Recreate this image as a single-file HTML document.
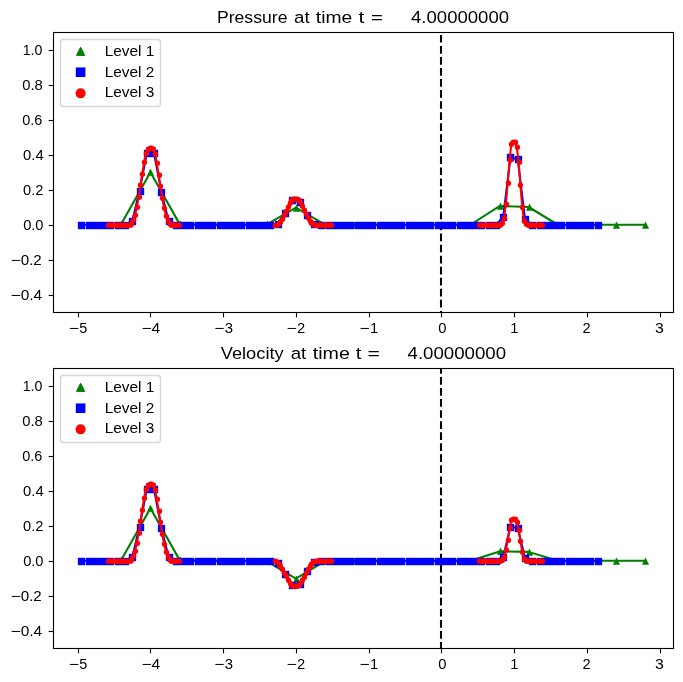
<!DOCTYPE html>
<html><head><meta charset="utf-8"><title>plot</title>
<style>html,body{margin:0;padding:0;background:#fff;}body{width:683px;height:682px;overflow:hidden;font-family:"Liberation Sans", sans-serif;}svg{display:block;will-change:transform;}</style>
</head><body>
<svg width="683" height="682" viewBox="0 0 683 682" font-family='"Liberation Sans", sans-serif' fill="#000">
<rect width="683" height="682" fill="#fff"/>
<clipPath id="cp"><rect x="53.18" y="32.25" width="620.0" height="280.0"/></clipPath>
<g clip-path="url(#cp)">
<line x1="441" x2="441" y1="23.86" y2="314.25" stroke="#000" stroke-width="2.08" stroke-dasharray="7.71 3.33"/>
<polyline points="92.27,224.75 121.36,223.81 150.45,172.22 179.54,223.88 208.63,224.75 237.73,224.75 266.82,224.46 295.91,207.69 325,224.59 354.09,224.75 383.18,224.75 412.27,224.75 441.36,224.75 470.45,224.75 499.54,206.03 528.63,207.01 557.73,224.75 586.82,224.75 615.91,224.75 645,224.75" fill="none" stroke="#008000" stroke-width="2.08" stroke-linejoin="round"/>
<path d="M92.5 223.05L90.05 227.95L94.95 227.95Z" fill="#008000" stroke="#008000" stroke-width="1.39" stroke-linejoin="miter"/>
<path d="M121.5 222.05L119.05 226.95L123.95 226.95Z" fill="#008000" stroke="#008000" stroke-width="1.39" stroke-linejoin="miter"/>
<path d="M150.5 170.05L148.05 174.95L152.95 174.95Z" fill="#008000" stroke="#008000" stroke-width="1.39" stroke-linejoin="miter"/>
<path d="M180.5 222.05L178.05 226.95L182.95 226.95Z" fill="#008000" stroke="#008000" stroke-width="1.39" stroke-linejoin="miter"/>
<path d="M209.5 223.05L207.05 227.95L211.95 227.95Z" fill="#008000" stroke="#008000" stroke-width="1.39" stroke-linejoin="miter"/>
<path d="M238.5 223.05L236.05 227.95L240.95 227.95Z" fill="#008000" stroke="#008000" stroke-width="1.39" stroke-linejoin="miter"/>
<path d="M267.5 222.05L265.05 226.95L269.95 226.95Z" fill="#008000" stroke="#008000" stroke-width="1.39" stroke-linejoin="miter"/>
<path d="M296.5 206.05L294.05 210.95L298.95 210.95Z" fill="#008000" stroke="#008000" stroke-width="1.39" stroke-linejoin="miter"/>
<path d="M325.5 223.05L323.05 227.95L327.95 227.95Z" fill="#008000" stroke="#008000" stroke-width="1.39" stroke-linejoin="miter"/>
<path d="M354.5 223.05L352.05 227.95L356.95 227.95Z" fill="#008000" stroke="#008000" stroke-width="1.39" stroke-linejoin="miter"/>
<path d="M383.5 223.05L381.05 227.95L385.95 227.95Z" fill="#008000" stroke="#008000" stroke-width="1.39" stroke-linejoin="miter"/>
<path d="M412.5 223.05L410.05 227.95L414.95 227.95Z" fill="#008000" stroke="#008000" stroke-width="1.39" stroke-linejoin="miter"/>
<path d="M441.5 223.05L439.05 227.95L443.95 227.95Z" fill="#008000" stroke="#008000" stroke-width="1.39" stroke-linejoin="miter"/>
<path d="M470.5 223.05L468.05 227.95L472.95 227.95Z" fill="#008000" stroke="#008000" stroke-width="1.39" stroke-linejoin="miter"/>
<path d="M500.5 204.05L498.05 208.95L502.95 208.95Z" fill="#008000" stroke="#008000" stroke-width="1.39" stroke-linejoin="miter"/>
<path d="M529.5 205.05L527.05 209.95L531.95 209.95Z" fill="#008000" stroke="#008000" stroke-width="1.39" stroke-linejoin="miter"/>
<path d="M558.5 223.05L556.05 227.95L560.95 227.95Z" fill="#008000" stroke="#008000" stroke-width="1.39" stroke-linejoin="miter"/>
<path d="M587.5 223.05L585.05 227.95L589.95 227.95Z" fill="#008000" stroke="#008000" stroke-width="1.39" stroke-linejoin="miter"/>
<path d="M616.5 223.05L614.05 227.95L618.95 227.95Z" fill="#008000" stroke="#008000" stroke-width="1.39" stroke-linejoin="miter"/>
<path d="M645.5 223.05L643.05 227.95L647.95 227.95Z" fill="#008000" stroke="#008000" stroke-width="1.39" stroke-linejoin="miter"/>
<polyline points="81.36,224.75 88.63,224.75 95.91,224.75 103.18,224.75 110.45,224.75 117.73,224.75 125,224.75 132.27,220.99 139.54,190.79 146.82,153.03 154.09,153.44 161.36,191.65 168.63,221.26 175.91,224.75 183.18,224.75 190.45,224.75 197.73,224.75 205,224.75 212.27,224.75 219.54,224.75 226.82,224.75 234.09,224.75 241.36,224.75 248.63,224.75 255.91,224.75 263.18,224.75 270.45,224.75 277.73,223.58 285,213.17 292.27,200.45 299.54,201.68 306.82,215.48 314.09,224.11 321.36,224.75 328.63,224.75 335.91,224.75 343.18,224.75 350.45,224.75 357.73,224.75 365,224.75 372.27,224.75 379.54,224.75 386.82,224.75 394.09,224.75 401.36,224.75 408.63,224.75 415.91,224.75 423.18,224.75 430.45,224.75 437.73,224.75 445,224.75 452.27,224.75 459.54,224.75 466.82,224.75 474.09,224.75 481.36,224.75 488.63,224.75 495.91,224.75 503.18,217.27 510.45,157.33 517.73,159.21 525,219.33 532.27,224.75 539.54,224.75 546.82,224.75 554.09,224.75 561.36,224.75 568.63,224.75 575.91,224.75 583.18,224.75 590.45,224.75 597.73,224.75" fill="none" stroke="#0000ff" stroke-width="2.08" stroke-linejoin="round"/>
<rect x="77.85" y="221.8" width="7.3" height="7.4" fill="#0000ff"/>
<rect x="85.85" y="221.8" width="7.3" height="7.4" fill="#0000ff"/>
<rect x="92.85" y="221.8" width="7.3" height="7.4" fill="#0000ff"/>
<rect x="99.85" y="221.8" width="7.3" height="7.4" fill="#0000ff"/>
<rect x="106.85" y="221.8" width="7.3" height="7.4" fill="#0000ff"/>
<rect x="114.85" y="221.8" width="7.3" height="7.4" fill="#0000ff"/>
<rect x="121.85" y="221.8" width="7.3" height="7.4" fill="#0000ff"/>
<rect x="128.85" y="217.8" width="7.3" height="7.4" fill="#0000ff"/>
<rect x="136.85" y="187.8" width="7.3" height="7.4" fill="#0000ff"/>
<rect x="143.85" y="149.8" width="7.3" height="7.4" fill="#0000ff"/>
<rect x="150.85" y="149.8" width="7.3" height="7.4" fill="#0000ff"/>
<rect x="157.85" y="188.8" width="7.3" height="7.4" fill="#0000ff"/>
<rect x="165.85" y="217.8" width="7.3" height="7.4" fill="#0000ff"/>
<rect x="172.85" y="221.8" width="7.3" height="7.4" fill="#0000ff"/>
<rect x="179.85" y="221.8" width="7.3" height="7.4" fill="#0000ff"/>
<rect x="186.85" y="221.8" width="7.3" height="7.4" fill="#0000ff"/>
<rect x="194.85" y="221.8" width="7.3" height="7.4" fill="#0000ff"/>
<rect x="201.85" y="221.8" width="7.3" height="7.4" fill="#0000ff"/>
<rect x="208.85" y="221.8" width="7.3" height="7.4" fill="#0000ff"/>
<rect x="216.85" y="221.8" width="7.3" height="7.4" fill="#0000ff"/>
<rect x="223.85" y="221.8" width="7.3" height="7.4" fill="#0000ff"/>
<rect x="230.85" y="221.8" width="7.3" height="7.4" fill="#0000ff"/>
<rect x="237.85" y="221.8" width="7.3" height="7.4" fill="#0000ff"/>
<rect x="245.85" y="221.8" width="7.3" height="7.4" fill="#0000ff"/>
<rect x="252.85" y="221.8" width="7.3" height="7.4" fill="#0000ff"/>
<rect x="259.85" y="221.8" width="7.3" height="7.4" fill="#0000ff"/>
<rect x="266.85" y="221.8" width="7.3" height="7.4" fill="#0000ff"/>
<rect x="274.85" y="220.8" width="7.3" height="7.4" fill="#0000ff"/>
<rect x="281.85" y="209.8" width="7.3" height="7.4" fill="#0000ff"/>
<rect x="288.85" y="196.8" width="7.3" height="7.4" fill="#0000ff"/>
<rect x="296.85" y="198.8" width="7.3" height="7.4" fill="#0000ff"/>
<rect x="303.85" y="211.8" width="7.3" height="7.4" fill="#0000ff"/>
<rect x="310.85" y="220.8" width="7.3" height="7.4" fill="#0000ff"/>
<rect x="317.85" y="221.8" width="7.3" height="7.4" fill="#0000ff"/>
<rect x="325.85" y="221.8" width="7.3" height="7.4" fill="#0000ff"/>
<rect x="332.85" y="221.8" width="7.3" height="7.4" fill="#0000ff"/>
<rect x="339.85" y="221.8" width="7.3" height="7.4" fill="#0000ff"/>
<rect x="346.85" y="221.8" width="7.3" height="7.4" fill="#0000ff"/>
<rect x="354.85" y="221.8" width="7.3" height="7.4" fill="#0000ff"/>
<rect x="361.85" y="221.8" width="7.3" height="7.4" fill="#0000ff"/>
<rect x="368.85" y="221.8" width="7.3" height="7.4" fill="#0000ff"/>
<rect x="376.85" y="221.8" width="7.3" height="7.4" fill="#0000ff"/>
<rect x="383.85" y="221.8" width="7.3" height="7.4" fill="#0000ff"/>
<rect x="390.85" y="221.8" width="7.3" height="7.4" fill="#0000ff"/>
<rect x="397.85" y="221.8" width="7.3" height="7.4" fill="#0000ff"/>
<rect x="405.85" y="221.8" width="7.3" height="7.4" fill="#0000ff"/>
<rect x="412.85" y="221.8" width="7.3" height="7.4" fill="#0000ff"/>
<rect x="419.85" y="221.8" width="7.3" height="7.4" fill="#0000ff"/>
<rect x="426.85" y="221.8" width="7.3" height="7.4" fill="#0000ff"/>
<rect x="434.85" y="221.8" width="7.3" height="7.4" fill="#0000ff"/>
<rect x="441.85" y="221.8" width="7.3" height="7.4" fill="#0000ff"/>
<rect x="448.85" y="221.8" width="7.3" height="7.4" fill="#0000ff"/>
<rect x="456.85" y="221.8" width="7.3" height="7.4" fill="#0000ff"/>
<rect x="463.85" y="221.8" width="7.3" height="7.4" fill="#0000ff"/>
<rect x="470.85" y="221.8" width="7.3" height="7.4" fill="#0000ff"/>
<rect x="477.85" y="221.8" width="7.3" height="7.4" fill="#0000ff"/>
<rect x="485.85" y="221.8" width="7.3" height="7.4" fill="#0000ff"/>
<rect x="492.85" y="221.8" width="7.3" height="7.4" fill="#0000ff"/>
<rect x="499.85" y="213.8" width="7.3" height="7.4" fill="#0000ff"/>
<rect x="506.85" y="153.8" width="7.3" height="7.4" fill="#0000ff"/>
<rect x="514.85" y="155.8" width="7.3" height="7.4" fill="#0000ff"/>
<rect x="521.85" y="215.8" width="7.3" height="7.4" fill="#0000ff"/>
<rect x="528.85" y="221.8" width="7.3" height="7.4" fill="#0000ff"/>
<rect x="536.85" y="221.8" width="7.3" height="7.4" fill="#0000ff"/>
<rect x="543.85" y="221.8" width="7.3" height="7.4" fill="#0000ff"/>
<rect x="550.85" y="221.8" width="7.3" height="7.4" fill="#0000ff"/>
<rect x="557.85" y="221.8" width="7.3" height="7.4" fill="#0000ff"/>
<rect x="565.85" y="221.8" width="7.3" height="7.4" fill="#0000ff"/>
<rect x="572.85" y="221.8" width="7.3" height="7.4" fill="#0000ff"/>
<rect x="579.85" y="221.8" width="7.3" height="7.4" fill="#0000ff"/>
<rect x="586.85" y="221.8" width="7.3" height="7.4" fill="#0000ff"/>
<rect x="594.85" y="221.8" width="7.3" height="7.4" fill="#0000ff"/>
<polyline points="107.73,224.75 109.54,224.75 111.36,224.75 113.18,224.75 115,224.75 116.82,224.75 118.63,224.75 120.45,224.75 122.27,224.75 124.09,224.75 125.91,224.75 127.73,224.75 129.54,224.72 131.36,223.91 133.18,220.34 135,215 136.82,207.37 138.63,197.13 140.45,184.93 142.27,173.71 144.09,162.25 145.91,153 147.73,148.77 149.54,148.09 151.36,148.13 153.18,148.98 155,153.55 156.82,163.09 158.63,174.62 160.45,185.87 162.27,198.03 164.09,208.08 165.91,215.51 167.73,220.69 169.54,224.08 171.36,224.75 173.18,224.75 175,224.75 176.82,224.75 178.63,224.75" fill="none" stroke="#ff0000" stroke-width="2.08" stroke-linejoin="round"/>
<circle cx="108.45" cy="225.25" r="2.65" fill="#ff0000"/>
<circle cx="110.45" cy="225.25" r="2.65" fill="#ff0000"/>
<circle cx="111.45" cy="225.25" r="2.65" fill="#ff0000"/>
<circle cx="113.45" cy="225.25" r="2.65" fill="#ff0000"/>
<circle cx="115.45" cy="225.25" r="2.65" fill="#ff0000"/>
<circle cx="117.45" cy="225.25" r="2.65" fill="#ff0000"/>
<circle cx="119.45" cy="225.25" r="2.65" fill="#ff0000"/>
<circle cx="120.45" cy="225.25" r="2.65" fill="#ff0000"/>
<circle cx="122.45" cy="225.25" r="2.65" fill="#ff0000"/>
<circle cx="124.45" cy="225.25" r="2.65" fill="#ff0000"/>
<circle cx="126.45" cy="225.25" r="2.65" fill="#ff0000"/>
<circle cx="128.45" cy="225.25" r="2.65" fill="#ff0000"/>
<circle cx="130.45" cy="225.25" r="2.65" fill="#ff0000"/>
<circle cx="131.45" cy="224.25" r="2.65" fill="#ff0000"/>
<circle cx="133.45" cy="220.25" r="2.65" fill="#ff0000"/>
<circle cx="135.45" cy="215.25" r="2.65" fill="#ff0000"/>
<circle cx="137.45" cy="207.25" r="2.65" fill="#ff0000"/>
<circle cx="139.45" cy="197.25" r="2.65" fill="#ff0000"/>
<circle cx="140.45" cy="185.25" r="2.65" fill="#ff0000"/>
<circle cx="142.45" cy="174.25" r="2.65" fill="#ff0000"/>
<circle cx="144.45" cy="162.25" r="2.65" fill="#ff0000"/>
<circle cx="146.45" cy="153.25" r="2.65" fill="#ff0000"/>
<circle cx="148.45" cy="149.25" r="2.65" fill="#ff0000"/>
<circle cx="150.45" cy="148.25" r="2.65" fill="#ff0000"/>
<circle cx="151.45" cy="148.25" r="2.65" fill="#ff0000"/>
<circle cx="153.45" cy="149.25" r="2.65" fill="#ff0000"/>
<circle cx="155.45" cy="154.25" r="2.65" fill="#ff0000"/>
<circle cx="157.45" cy="163.25" r="2.65" fill="#ff0000"/>
<circle cx="159.45" cy="175.25" r="2.65" fill="#ff0000"/>
<circle cx="160.45" cy="186.25" r="2.65" fill="#ff0000"/>
<circle cx="162.45" cy="198.25" r="2.65" fill="#ff0000"/>
<circle cx="164.45" cy="208.25" r="2.65" fill="#ff0000"/>
<circle cx="166.45" cy="216.25" r="2.65" fill="#ff0000"/>
<circle cx="168.45" cy="221.25" r="2.65" fill="#ff0000"/>
<circle cx="170.45" cy="224.25" r="2.65" fill="#ff0000"/>
<circle cx="171.45" cy="225.25" r="2.65" fill="#ff0000"/>
<circle cx="173.45" cy="225.25" r="2.65" fill="#ff0000"/>
<circle cx="175.45" cy="225.25" r="2.65" fill="#ff0000"/>
<circle cx="177.45" cy="225.25" r="2.65" fill="#ff0000"/>
<circle cx="179.45" cy="225.25" r="2.65" fill="#ff0000"/>
<polyline points="275,224.75 276.82,224.54 278.63,223.41 280.45,221.61 282.27,218.98 284.09,215.38 285.91,211.13 287.73,207.19 289.54,203.28 291.36,200.36 293.18,199.17 295,198.98 296.82,199.08 298.63,199.81 300.45,202.09 302.27,205.74 304.09,209.72 305.91,213.84 307.73,217.7 309.54,220.68 311.36,222.79 313.18,224.2 315,224.7 316.82,224.75 318.63,224.75 320.45,224.75 322.27,224.75 324.09,224.75 325.91,224.75 327.73,224.75 329.54,224.75 331.36,224.75" fill="none" stroke="#ff0000" stroke-width="2.08" stroke-linejoin="round"/>
<circle cx="275.45" cy="225.25" r="2.65" fill="#ff0000"/>
<circle cx="277.45" cy="225.25" r="2.65" fill="#ff0000"/>
<circle cx="279.45" cy="223.25" r="2.65" fill="#ff0000"/>
<circle cx="280.45" cy="222.25" r="2.65" fill="#ff0000"/>
<circle cx="282.45" cy="219.25" r="2.65" fill="#ff0000"/>
<circle cx="284.45" cy="215.25" r="2.65" fill="#ff0000"/>
<circle cx="286.45" cy="211.25" r="2.65" fill="#ff0000"/>
<circle cx="288.45" cy="207.25" r="2.65" fill="#ff0000"/>
<circle cx="290.45" cy="203.25" r="2.65" fill="#ff0000"/>
<circle cx="291.45" cy="200.25" r="2.65" fill="#ff0000"/>
<circle cx="293.45" cy="199.25" r="2.65" fill="#ff0000"/>
<circle cx="295.45" cy="199.25" r="2.65" fill="#ff0000"/>
<circle cx="297.45" cy="199.25" r="2.65" fill="#ff0000"/>
<circle cx="299.45" cy="200.25" r="2.65" fill="#ff0000"/>
<circle cx="300.45" cy="202.25" r="2.65" fill="#ff0000"/>
<circle cx="302.45" cy="206.25" r="2.65" fill="#ff0000"/>
<circle cx="304.45" cy="210.25" r="2.65" fill="#ff0000"/>
<circle cx="306.45" cy="214.25" r="2.65" fill="#ff0000"/>
<circle cx="308.45" cy="218.25" r="2.65" fill="#ff0000"/>
<circle cx="310.45" cy="221.25" r="2.65" fill="#ff0000"/>
<circle cx="311.45" cy="223.25" r="2.65" fill="#ff0000"/>
<circle cx="313.45" cy="224.25" r="2.65" fill="#ff0000"/>
<circle cx="315.45" cy="225.25" r="2.65" fill="#ff0000"/>
<circle cx="317.45" cy="225.25" r="2.65" fill="#ff0000"/>
<circle cx="319.45" cy="225.25" r="2.65" fill="#ff0000"/>
<circle cx="320.45" cy="225.25" r="2.65" fill="#ff0000"/>
<circle cx="322.45" cy="225.25" r="2.65" fill="#ff0000"/>
<circle cx="324.45" cy="225.25" r="2.65" fill="#ff0000"/>
<circle cx="326.45" cy="225.25" r="2.65" fill="#ff0000"/>
<circle cx="328.45" cy="225.25" r="2.65" fill="#ff0000"/>
<circle cx="330.45" cy="225.25" r="2.65" fill="#ff0000"/>
<circle cx="331.45" cy="225.25" r="2.65" fill="#ff0000"/>
<polyline points="478.63,224.75 480.45,224.75 482.27,224.75 484.09,224.75 485.91,224.75 487.73,224.75 489.54,224.75 491.36,224.75 493.18,224.75 495,224.75 496.82,224.75 498.63,224.75 500.45,224.75 502.27,223 504.09,217.75 505.91,203.58 507.73,183.28 509.54,160.18 511.36,144.07 513.18,141.8 515,141.8 516.82,147.23 518.63,162.45 520.45,185.38 522.27,207.43 524.09,220.73 525.91,224.4 527.73,224.75 529.54,224.75 531.36,224.75 533.18,224.75 535,224.75 536.82,224.75 538.63,224.75 540.45,224.75 542.27,224.75" fill="none" stroke="#ff0000" stroke-width="2.08" stroke-linejoin="round"/>
<circle cx="479.45" cy="225.25" r="2.65" fill="#ff0000"/>
<circle cx="480.45" cy="225.25" r="2.65" fill="#ff0000"/>
<circle cx="482.45" cy="225.25" r="2.65" fill="#ff0000"/>
<circle cx="484.45" cy="225.25" r="2.65" fill="#ff0000"/>
<circle cx="486.45" cy="225.25" r="2.65" fill="#ff0000"/>
<circle cx="488.45" cy="225.25" r="2.65" fill="#ff0000"/>
<circle cx="490.45" cy="225.25" r="2.65" fill="#ff0000"/>
<circle cx="491.45" cy="225.25" r="2.65" fill="#ff0000"/>
<circle cx="493.45" cy="225.25" r="2.65" fill="#ff0000"/>
<circle cx="495.45" cy="225.25" r="2.65" fill="#ff0000"/>
<circle cx="497.45" cy="225.25" r="2.65" fill="#ff0000"/>
<circle cx="499.45" cy="225.25" r="2.65" fill="#ff0000"/>
<circle cx="500.45" cy="225.25" r="2.65" fill="#ff0000"/>
<circle cx="502.45" cy="223.25" r="2.65" fill="#ff0000"/>
<circle cx="504.45" cy="218.25" r="2.65" fill="#ff0000"/>
<circle cx="506.45" cy="204.25" r="2.65" fill="#ff0000"/>
<circle cx="508.45" cy="183.25" r="2.65" fill="#ff0000"/>
<circle cx="510.45" cy="160.25" r="2.65" fill="#ff0000"/>
<circle cx="511.45" cy="144.25" r="2.65" fill="#ff0000"/>
<circle cx="513.45" cy="142.25" r="2.65" fill="#ff0000"/>
<circle cx="515.45" cy="142.25" r="2.65" fill="#ff0000"/>
<circle cx="517.45" cy="147.25" r="2.65" fill="#ff0000"/>
<circle cx="519.45" cy="162.25" r="2.65" fill="#ff0000"/>
<circle cx="520.45" cy="185.25" r="2.65" fill="#ff0000"/>
<circle cx="522.45" cy="207.25" r="2.65" fill="#ff0000"/>
<circle cx="524.45" cy="221.25" r="2.65" fill="#ff0000"/>
<circle cx="526.45" cy="224.25" r="2.65" fill="#ff0000"/>
<circle cx="528.45" cy="225.25" r="2.65" fill="#ff0000"/>
<circle cx="530.45" cy="225.25" r="2.65" fill="#ff0000"/>
<circle cx="531.45" cy="225.25" r="2.65" fill="#ff0000"/>
<circle cx="533.45" cy="225.25" r="2.65" fill="#ff0000"/>
<circle cx="535.45" cy="225.25" r="2.65" fill="#ff0000"/>
<circle cx="537.45" cy="225.25" r="2.65" fill="#ff0000"/>
<circle cx="539.45" cy="225.25" r="2.65" fill="#ff0000"/>
<circle cx="540.45" cy="225.25" r="2.65" fill="#ff0000"/>
<circle cx="542.45" cy="225.25" r="2.65" fill="#ff0000"/>
</g>
<rect x="53.5" y="32.5" width="620.0" height="280.0" fill="none" stroke="#000" stroke-width="1.11"/>
<line x1="78.5" x2="78.5" y1="312.5" y2="317.36" stroke="#000" stroke-width="1.11"/>
<text transform="translate(68.68,333.05) scale(1.2599,1.035)" font-size="13.89">−</text>
<text transform="translate(79.15,333.05) scale(1.0404,1.035)" font-size="13.89">5</text>
<line x1="150.5" x2="150.5" y1="312.5" y2="317.36" stroke="#000" stroke-width="1.11"/>
<text transform="translate(141.59,333.05) scale(1.2383,1.035)" font-size="13.89">−</text>
<text transform="translate(151.45,333.05) scale(1.1310,1.035)" font-size="13.89">4</text>
<line x1="223.5" x2="223.5" y1="312.5" y2="317.36" stroke="#000" stroke-width="1.11"/>
<text transform="translate(214.19,333.05) scale(1.2383,1.035)" font-size="13.89">−</text>
<text transform="translate(224.74,333.05) scale(1.0702,1.035)" font-size="13.89">3</text>
<line x1="296.5" x2="296.5" y1="312.5" y2="317.36" stroke="#000" stroke-width="1.11"/>
<text transform="translate(286.58,333.05) scale(1.2671,1.035)" font-size="13.89">−</text>
<text transform="translate(296.91,333.05) scale(1.0598,1.035)" font-size="13.89">2</text>
<line x1="369.5" x2="369.5" y1="312.5" y2="317.36" stroke="#000" stroke-width="1.11"/>
<text transform="translate(359.49,333.05) scale(1.2383,1.035)" font-size="13.89">−</text>
<text transform="translate(369.88,333.05) scale(1.0645,1.035)" font-size="13.89">1</text>
<line x1="441.5" x2="441.5" y1="312.5" y2="317.36" stroke="#000" stroke-width="1.11"/>
<text transform="translate(438.14,333.05) scale(1.0655,1.035)" font-size="13.89">0</text>
<line x1="514.5" x2="514.5" y1="312.5" y2="317.36" stroke="#000" stroke-width="1.11"/>
<text transform="translate(510.29,333.05) scale(1.0486,1.035)" font-size="13.89">1</text>
<line x1="587.5" x2="587.5" y1="312.5" y2="317.36" stroke="#000" stroke-width="1.11"/>
<text transform="translate(582.41,333.05) scale(1.0598,1.035)" font-size="13.89">2</text>
<line x1="660.5" x2="660.5" y1="312.5" y2="317.36" stroke="#000" stroke-width="1.11"/>
<text transform="translate(655.10,333.05) scale(1.1445,1.035)" font-size="13.89">3</text>
<line x1="48.64" x2="53.5" y1="295.5" y2="295.5" stroke="#000" stroke-width="1.11"/>
<text transform="translate(10.48,300.00) scale(1.2671,1.035)" font-size="13.89">−</text>
<text transform="translate(20.72,300.00) scale(1.1145,1.035)" font-size="13.89">0.4</text>
<line x1="48.64" x2="53.5" y1="260.5" y2="260.5" stroke="#000" stroke-width="1.11"/>
<text transform="translate(10.48,265.00) scale(1.2671,1.035)" font-size="13.89">−</text>
<text transform="translate(20.73,265.00) scale(1.0922,1.035)" font-size="13.89">0.2</text>
<line x1="48.64" x2="53.5" y1="225.5" y2="225.5" stroke="#000" stroke-width="1.11"/>
<text transform="translate(23.14,230.00) scale(1.0551,1.035)" font-size="13.89">0.0</text>
<line x1="48.64" x2="53.5" y1="190.5" y2="190.5" stroke="#000" stroke-width="1.11"/>
<text transform="translate(23.11,195.00) scale(1.0556,1.035)" font-size="13.89">0.2</text>
<line x1="48.64" x2="53.5" y1="155.5" y2="155.5" stroke="#000" stroke-width="1.11"/>
<text transform="translate(23.11,160.00) scale(1.0702,1.035)" font-size="13.89">0.4</text>
<line x1="48.64" x2="53.5" y1="120.5" y2="120.5" stroke="#000" stroke-width="1.11"/>
<text transform="translate(22.20,125.00) scale(1.0458,1.035)" font-size="13.89">0.6</text>
<line x1="48.64" x2="53.5" y1="85.5" y2="85.5" stroke="#000" stroke-width="1.11"/>
<text transform="translate(22.19,90.00) scale(1.0676,1.035)" font-size="13.89">0.8</text>
<line x1="48.64" x2="53.5" y1="50.5" y2="50.5" stroke="#000" stroke-width="1.11"/>
<text transform="translate(22.68,55.00) scale(1.0240,1.035)" font-size="13.89">1.0</text>
<text transform="translate(216.92,23.20) scale(1.0583,1.035)" font-size="16.67">Pressure</text>
<text transform="translate(294.01,23.20) scale(1.1236,1.035)" font-size="16.67">at</text>
<text transform="translate(315.80,23.20) scale(1.1585,1.035)" font-size="16.67">time</text>
<text transform="translate(358.50,23.20) scale(1.2584,1.035)" font-size="16.67">t</text>
<text transform="translate(370.94,23.20) scale(1.2238,1.035)" font-size="16.67">=</text>
<text transform="translate(411.01,23.20) scale(1.1145,1.035)" font-size="16.67">4.00000000</text>
<rect x="60.5" y="39.45" width="100" height="67" rx="2.8" ry="2.8" fill="#fff" fill-opacity="0.8" stroke="#ccc" stroke-opacity="0.8" stroke-width="1.39"/>
<path d="M80.6 47.09L76.43 55.41L84.77 55.41Z" fill="#008000" stroke="#008000" stroke-width="1.0" stroke-linejoin="miter"/>
<rect x="75.8" y="67.45" width="9.6" height="9.6" fill="#0000ff"/>
<circle cx="80.6" cy="93.35" r="5" fill="#ff0000"/>
<text transform="translate(104.70,55.75) scale(1.1103,1.035)" font-size="13.89">Level 1</text>
<text transform="translate(104.70,76.55) scale(1.1103,1.035)" font-size="13.89">Level 2</text>
<text transform="translate(104.70,97.35) scale(1.1103,1.035)" font-size="13.89">Level 3</text>
<clipPath id="cu"><rect x="53.18" y="368.25" width="620.0" height="280.0"/></clipPath>
<g clip-path="url(#cu)">
<line x1="441" x2="441" y1="354.96" y2="650.25" stroke="#000" stroke-width="2.08" stroke-dasharray="7.71 3.33"/>
<polyline points="92.27,560.75 121.36,559.81 150.45,508.22 179.54,559.88 208.63,560.75 237.73,560.75 266.82,561.35 295.91,578.64 325,561.06 354.09,560.75 383.18,560.75 412.27,560.75 441.36,560.75 470.45,560.75 499.54,551.39 528.63,551.88 557.73,560.75 586.82,560.75 615.91,560.75 645,560.75" fill="none" stroke="#008000" stroke-width="2.08" stroke-linejoin="round"/>
<path d="M92.5 559.05L90.05 563.95L94.95 563.95Z" fill="#008000" stroke="#008000" stroke-width="1.39" stroke-linejoin="miter"/>
<path d="M121.5 558.05L119.05 562.95L123.95 562.95Z" fill="#008000" stroke="#008000" stroke-width="1.39" stroke-linejoin="miter"/>
<path d="M150.5 506.05L148.05 510.95L152.95 510.95Z" fill="#008000" stroke="#008000" stroke-width="1.39" stroke-linejoin="miter"/>
<path d="M180.5 558.05L178.05 562.95L182.95 562.95Z" fill="#008000" stroke="#008000" stroke-width="1.39" stroke-linejoin="miter"/>
<path d="M209.5 559.05L207.05 563.95L211.95 563.95Z" fill="#008000" stroke="#008000" stroke-width="1.39" stroke-linejoin="miter"/>
<path d="M238.5 559.05L236.05 563.95L240.95 563.95Z" fill="#008000" stroke="#008000" stroke-width="1.39" stroke-linejoin="miter"/>
<path d="M267.5 559.05L265.05 563.95L269.95 563.95Z" fill="#008000" stroke="#008000" stroke-width="1.39" stroke-linejoin="miter"/>
<path d="M296.5 577.05L294.05 581.95L298.95 581.95Z" fill="#008000" stroke="#008000" stroke-width="1.39" stroke-linejoin="miter"/>
<path d="M325.5 559.05L323.05 563.95L327.95 563.95Z" fill="#008000" stroke="#008000" stroke-width="1.39" stroke-linejoin="miter"/>
<path d="M354.5 559.05L352.05 563.95L356.95 563.95Z" fill="#008000" stroke="#008000" stroke-width="1.39" stroke-linejoin="miter"/>
<path d="M383.5 559.05L381.05 563.95L385.95 563.95Z" fill="#008000" stroke="#008000" stroke-width="1.39" stroke-linejoin="miter"/>
<path d="M412.5 559.05L410.05 563.95L414.95 563.95Z" fill="#008000" stroke="#008000" stroke-width="1.39" stroke-linejoin="miter"/>
<path d="M441.5 559.05L439.05 563.95L443.95 563.95Z" fill="#008000" stroke="#008000" stroke-width="1.39" stroke-linejoin="miter"/>
<path d="M470.5 559.05L468.05 563.95L472.95 563.95Z" fill="#008000" stroke="#008000" stroke-width="1.39" stroke-linejoin="miter"/>
<path d="M500.5 549.05L498.05 553.95L502.95 553.95Z" fill="#008000" stroke="#008000" stroke-width="1.39" stroke-linejoin="miter"/>
<path d="M529.5 550.05L527.05 554.95L531.95 554.95Z" fill="#008000" stroke="#008000" stroke-width="1.39" stroke-linejoin="miter"/>
<path d="M558.5 559.05L556.05 563.95L560.95 563.95Z" fill="#008000" stroke="#008000" stroke-width="1.39" stroke-linejoin="miter"/>
<path d="M587.5 559.05L585.05 563.95L589.95 563.95Z" fill="#008000" stroke="#008000" stroke-width="1.39" stroke-linejoin="miter"/>
<path d="M616.5 559.05L614.05 563.95L618.95 563.95Z" fill="#008000" stroke="#008000" stroke-width="1.39" stroke-linejoin="miter"/>
<path d="M645.5 559.05L643.05 563.95L647.95 563.95Z" fill="#008000" stroke="#008000" stroke-width="1.39" stroke-linejoin="miter"/>
<polyline points="81.36,560.75 88.63,560.75 95.91,560.75 103.18,560.75 110.45,560.75 117.73,560.75 125,560.75 132.27,556.99 139.54,526.79 146.82,489.03 154.09,489.44 161.36,527.65 168.63,557.26 175.91,560.75 183.18,560.75 190.45,560.75 197.73,560.75 205,560.75 212.27,560.75 219.54,560.75 226.82,560.75 234.09,560.75 241.36,560.75 248.63,560.75 255.91,560.75 263.18,560.75 270.45,560.75 277.73,563.14 285,574.43 292.27,585.06 299.54,583.75 306.82,571.33 314.09,561.97 321.36,560.75 328.63,560.75 335.91,560.75 343.18,560.75 350.45,560.75 357.73,560.75 365,560.75 372.27,560.75 379.54,560.75 386.82,560.75 394.09,560.75 401.36,560.75 408.63,560.75 415.91,560.75 423.18,560.75 430.45,560.75 437.73,560.75 445,560.75 452.27,560.75 459.54,560.75 466.82,560.75 474.09,560.75 481.36,560.75 488.63,560.75 495.91,560.75 503.18,557.01 510.45,527.04 517.73,527.98 525,558.04 532.27,560.75 539.54,560.75 546.82,560.75 554.09,560.75 561.36,560.75 568.63,560.75 575.91,560.75 583.18,560.75 590.45,560.75 597.73,560.75" fill="none" stroke="#0000ff" stroke-width="2.08" stroke-linejoin="round"/>
<rect x="77.85" y="557.8" width="7.3" height="7.4" fill="#0000ff"/>
<rect x="85.85" y="557.8" width="7.3" height="7.4" fill="#0000ff"/>
<rect x="92.85" y="557.8" width="7.3" height="7.4" fill="#0000ff"/>
<rect x="99.85" y="557.8" width="7.3" height="7.4" fill="#0000ff"/>
<rect x="106.85" y="557.8" width="7.3" height="7.4" fill="#0000ff"/>
<rect x="114.85" y="557.8" width="7.3" height="7.4" fill="#0000ff"/>
<rect x="121.85" y="557.8" width="7.3" height="7.4" fill="#0000ff"/>
<rect x="128.85" y="553.8" width="7.3" height="7.4" fill="#0000ff"/>
<rect x="136.85" y="523.8" width="7.3" height="7.4" fill="#0000ff"/>
<rect x="143.85" y="485.8" width="7.3" height="7.4" fill="#0000ff"/>
<rect x="150.85" y="485.8" width="7.3" height="7.4" fill="#0000ff"/>
<rect x="157.85" y="524.8" width="7.3" height="7.4" fill="#0000ff"/>
<rect x="165.85" y="553.8" width="7.3" height="7.4" fill="#0000ff"/>
<rect x="172.85" y="557.8" width="7.3" height="7.4" fill="#0000ff"/>
<rect x="179.85" y="557.8" width="7.3" height="7.4" fill="#0000ff"/>
<rect x="186.85" y="557.8" width="7.3" height="7.4" fill="#0000ff"/>
<rect x="194.85" y="557.8" width="7.3" height="7.4" fill="#0000ff"/>
<rect x="201.85" y="557.8" width="7.3" height="7.4" fill="#0000ff"/>
<rect x="208.85" y="557.8" width="7.3" height="7.4" fill="#0000ff"/>
<rect x="216.85" y="557.8" width="7.3" height="7.4" fill="#0000ff"/>
<rect x="223.85" y="557.8" width="7.3" height="7.4" fill="#0000ff"/>
<rect x="230.85" y="557.8" width="7.3" height="7.4" fill="#0000ff"/>
<rect x="237.85" y="557.8" width="7.3" height="7.4" fill="#0000ff"/>
<rect x="245.85" y="557.8" width="7.3" height="7.4" fill="#0000ff"/>
<rect x="252.85" y="557.8" width="7.3" height="7.4" fill="#0000ff"/>
<rect x="259.85" y="557.8" width="7.3" height="7.4" fill="#0000ff"/>
<rect x="266.85" y="557.8" width="7.3" height="7.4" fill="#0000ff"/>
<rect x="274.85" y="559.8" width="7.3" height="7.4" fill="#0000ff"/>
<rect x="281.85" y="570.8" width="7.3" height="7.4" fill="#0000ff"/>
<rect x="288.85" y="581.8" width="7.3" height="7.4" fill="#0000ff"/>
<rect x="296.85" y="580.8" width="7.3" height="7.4" fill="#0000ff"/>
<rect x="303.85" y="567.8" width="7.3" height="7.4" fill="#0000ff"/>
<rect x="310.85" y="558.8" width="7.3" height="7.4" fill="#0000ff"/>
<rect x="317.85" y="557.8" width="7.3" height="7.4" fill="#0000ff"/>
<rect x="325.85" y="557.8" width="7.3" height="7.4" fill="#0000ff"/>
<rect x="332.85" y="557.8" width="7.3" height="7.4" fill="#0000ff"/>
<rect x="339.85" y="557.8" width="7.3" height="7.4" fill="#0000ff"/>
<rect x="346.85" y="557.8" width="7.3" height="7.4" fill="#0000ff"/>
<rect x="354.85" y="557.8" width="7.3" height="7.4" fill="#0000ff"/>
<rect x="361.85" y="557.8" width="7.3" height="7.4" fill="#0000ff"/>
<rect x="368.85" y="557.8" width="7.3" height="7.4" fill="#0000ff"/>
<rect x="376.85" y="557.8" width="7.3" height="7.4" fill="#0000ff"/>
<rect x="383.85" y="557.8" width="7.3" height="7.4" fill="#0000ff"/>
<rect x="390.85" y="557.8" width="7.3" height="7.4" fill="#0000ff"/>
<rect x="397.85" y="557.8" width="7.3" height="7.4" fill="#0000ff"/>
<rect x="405.85" y="557.8" width="7.3" height="7.4" fill="#0000ff"/>
<rect x="412.85" y="557.8" width="7.3" height="7.4" fill="#0000ff"/>
<rect x="419.85" y="557.8" width="7.3" height="7.4" fill="#0000ff"/>
<rect x="426.85" y="557.8" width="7.3" height="7.4" fill="#0000ff"/>
<rect x="434.85" y="557.8" width="7.3" height="7.4" fill="#0000ff"/>
<rect x="441.85" y="557.8" width="7.3" height="7.4" fill="#0000ff"/>
<rect x="448.85" y="557.8" width="7.3" height="7.4" fill="#0000ff"/>
<rect x="456.85" y="557.8" width="7.3" height="7.4" fill="#0000ff"/>
<rect x="463.85" y="557.8" width="7.3" height="7.4" fill="#0000ff"/>
<rect x="470.85" y="557.8" width="7.3" height="7.4" fill="#0000ff"/>
<rect x="477.85" y="557.8" width="7.3" height="7.4" fill="#0000ff"/>
<rect x="485.85" y="557.8" width="7.3" height="7.4" fill="#0000ff"/>
<rect x="492.85" y="557.8" width="7.3" height="7.4" fill="#0000ff"/>
<rect x="499.85" y="553.8" width="7.3" height="7.4" fill="#0000ff"/>
<rect x="506.85" y="523.8" width="7.3" height="7.4" fill="#0000ff"/>
<rect x="514.85" y="524.8" width="7.3" height="7.4" fill="#0000ff"/>
<rect x="521.85" y="554.8" width="7.3" height="7.4" fill="#0000ff"/>
<rect x="528.85" y="557.8" width="7.3" height="7.4" fill="#0000ff"/>
<rect x="536.85" y="557.8" width="7.3" height="7.4" fill="#0000ff"/>
<rect x="543.85" y="557.8" width="7.3" height="7.4" fill="#0000ff"/>
<rect x="550.85" y="557.8" width="7.3" height="7.4" fill="#0000ff"/>
<rect x="557.85" y="557.8" width="7.3" height="7.4" fill="#0000ff"/>
<rect x="565.85" y="557.8" width="7.3" height="7.4" fill="#0000ff"/>
<rect x="572.85" y="557.8" width="7.3" height="7.4" fill="#0000ff"/>
<rect x="579.85" y="557.8" width="7.3" height="7.4" fill="#0000ff"/>
<rect x="586.85" y="557.8" width="7.3" height="7.4" fill="#0000ff"/>
<rect x="594.85" y="557.8" width="7.3" height="7.4" fill="#0000ff"/>
<polyline points="107.73,560.75 109.54,560.75 111.36,560.75 113.18,560.75 115,560.75 116.82,560.75 118.63,560.75 120.45,560.75 122.27,560.75 124.09,560.75 125.91,560.75 127.73,560.75 129.54,560.72 131.36,559.91 133.18,556.34 135,551 136.82,543.37 138.63,533.13 140.45,520.93 142.27,509.71 144.09,498.25 145.91,489 147.73,484.77 149.54,484.09 151.36,484.13 153.18,484.98 155,489.55 156.82,499.09 158.63,510.62 160.45,521.87 162.27,534.03 164.09,544.08 165.91,551.51 167.73,556.69 169.54,560.08 171.36,560.75 173.18,560.75 175,560.75 176.82,560.75 178.63,560.75" fill="none" stroke="#ff0000" stroke-width="2.08" stroke-linejoin="round"/>
<circle cx="108.45" cy="561.25" r="2.65" fill="#ff0000"/>
<circle cx="110.45" cy="561.25" r="2.65" fill="#ff0000"/>
<circle cx="111.45" cy="561.25" r="2.65" fill="#ff0000"/>
<circle cx="113.45" cy="561.25" r="2.65" fill="#ff0000"/>
<circle cx="115.45" cy="561.25" r="2.65" fill="#ff0000"/>
<circle cx="117.45" cy="561.25" r="2.65" fill="#ff0000"/>
<circle cx="119.45" cy="561.25" r="2.65" fill="#ff0000"/>
<circle cx="120.45" cy="561.25" r="2.65" fill="#ff0000"/>
<circle cx="122.45" cy="561.25" r="2.65" fill="#ff0000"/>
<circle cx="124.45" cy="561.25" r="2.65" fill="#ff0000"/>
<circle cx="126.45" cy="561.25" r="2.65" fill="#ff0000"/>
<circle cx="128.45" cy="561.25" r="2.65" fill="#ff0000"/>
<circle cx="130.45" cy="561.25" r="2.65" fill="#ff0000"/>
<circle cx="131.45" cy="560.25" r="2.65" fill="#ff0000"/>
<circle cx="133.45" cy="556.25" r="2.65" fill="#ff0000"/>
<circle cx="135.45" cy="551.25" r="2.65" fill="#ff0000"/>
<circle cx="137.45" cy="543.25" r="2.65" fill="#ff0000"/>
<circle cx="139.45" cy="533.25" r="2.65" fill="#ff0000"/>
<circle cx="140.45" cy="521.25" r="2.65" fill="#ff0000"/>
<circle cx="142.45" cy="510.25" r="2.65" fill="#ff0000"/>
<circle cx="144.45" cy="498.25" r="2.65" fill="#ff0000"/>
<circle cx="146.45" cy="489.25" r="2.65" fill="#ff0000"/>
<circle cx="148.45" cy="485.25" r="2.65" fill="#ff0000"/>
<circle cx="150.45" cy="484.25" r="2.65" fill="#ff0000"/>
<circle cx="151.45" cy="484.25" r="2.65" fill="#ff0000"/>
<circle cx="153.45" cy="485.25" r="2.65" fill="#ff0000"/>
<circle cx="155.45" cy="490.25" r="2.65" fill="#ff0000"/>
<circle cx="157.45" cy="499.25" r="2.65" fill="#ff0000"/>
<circle cx="159.45" cy="511.25" r="2.65" fill="#ff0000"/>
<circle cx="160.45" cy="522.25" r="2.65" fill="#ff0000"/>
<circle cx="162.45" cy="534.25" r="2.65" fill="#ff0000"/>
<circle cx="164.45" cy="544.25" r="2.65" fill="#ff0000"/>
<circle cx="166.45" cy="552.25" r="2.65" fill="#ff0000"/>
<circle cx="168.45" cy="557.25" r="2.65" fill="#ff0000"/>
<circle cx="170.45" cy="560.25" r="2.65" fill="#ff0000"/>
<circle cx="171.45" cy="561.25" r="2.65" fill="#ff0000"/>
<circle cx="173.45" cy="561.25" r="2.65" fill="#ff0000"/>
<circle cx="175.45" cy="561.25" r="2.65" fill="#ff0000"/>
<circle cx="177.45" cy="561.25" r="2.65" fill="#ff0000"/>
<circle cx="179.45" cy="561.25" r="2.65" fill="#ff0000"/>
<polyline points="275,560.97 276.82,562.04 278.63,563.65 280.45,565.91 282.27,568.95 284.09,572.65 285.91,576.26 287.73,579.85 289.54,583.08 291.36,585.15 293.18,585.93 295,586.07 296.82,585.95 298.63,585.31 300.45,583.43 302.27,580.29 304.09,576.68 305.91,573.11 307.73,569.33 309.54,566.2 311.36,563.84 313.18,562.19 315,561.07 316.82,560.78 318.63,560.75 320.45,560.75 322.27,560.75 324.09,560.75 325.91,560.75 327.73,560.75 329.54,560.75 331.36,560.75" fill="none" stroke="#ff0000" stroke-width="2.08" stroke-linejoin="round"/>
<circle cx="275.45" cy="561.25" r="2.65" fill="#ff0000"/>
<circle cx="277.45" cy="562.25" r="2.65" fill="#ff0000"/>
<circle cx="279.45" cy="564.25" r="2.65" fill="#ff0000"/>
<circle cx="280.45" cy="566.25" r="2.65" fill="#ff0000"/>
<circle cx="282.45" cy="569.25" r="2.65" fill="#ff0000"/>
<circle cx="284.45" cy="573.25" r="2.65" fill="#ff0000"/>
<circle cx="286.45" cy="576.25" r="2.65" fill="#ff0000"/>
<circle cx="288.45" cy="580.25" r="2.65" fill="#ff0000"/>
<circle cx="290.45" cy="583.25" r="2.65" fill="#ff0000"/>
<circle cx="291.45" cy="585.25" r="2.65" fill="#ff0000"/>
<circle cx="293.45" cy="586.25" r="2.65" fill="#ff0000"/>
<circle cx="295.45" cy="586.25" r="2.65" fill="#ff0000"/>
<circle cx="297.45" cy="586.25" r="2.65" fill="#ff0000"/>
<circle cx="299.45" cy="585.25" r="2.65" fill="#ff0000"/>
<circle cx="300.45" cy="583.25" r="2.65" fill="#ff0000"/>
<circle cx="302.45" cy="580.25" r="2.65" fill="#ff0000"/>
<circle cx="304.45" cy="577.25" r="2.65" fill="#ff0000"/>
<circle cx="306.45" cy="573.25" r="2.65" fill="#ff0000"/>
<circle cx="308.45" cy="569.25" r="2.65" fill="#ff0000"/>
<circle cx="310.45" cy="566.25" r="2.65" fill="#ff0000"/>
<circle cx="311.45" cy="564.25" r="2.65" fill="#ff0000"/>
<circle cx="313.45" cy="562.25" r="2.65" fill="#ff0000"/>
<circle cx="315.45" cy="561.25" r="2.65" fill="#ff0000"/>
<circle cx="317.45" cy="561.25" r="2.65" fill="#ff0000"/>
<circle cx="319.45" cy="561.25" r="2.65" fill="#ff0000"/>
<circle cx="320.45" cy="561.25" r="2.65" fill="#ff0000"/>
<circle cx="322.45" cy="561.25" r="2.65" fill="#ff0000"/>
<circle cx="324.45" cy="561.25" r="2.65" fill="#ff0000"/>
<circle cx="326.45" cy="561.25" r="2.65" fill="#ff0000"/>
<circle cx="328.45" cy="561.25" r="2.65" fill="#ff0000"/>
<circle cx="330.45" cy="561.25" r="2.65" fill="#ff0000"/>
<circle cx="331.45" cy="561.25" r="2.65" fill="#ff0000"/>
<polyline points="478.63,560.75 480.45,560.75 482.27,560.75 484.09,560.75 485.91,560.75 487.73,560.75 489.54,560.75 491.36,560.75 493.18,560.75 495,560.75 496.82,560.75 498.63,560.75 500.45,560.75 502.27,559.88 504.09,557.25 505.91,550.16 507.73,540.01 509.54,528.46 511.36,520.41 513.18,519.27 515,519.27 516.82,521.99 518.63,529.6 520.45,541.06 522.27,552.09 524.09,558.74 525.91,560.58 527.73,560.75 529.54,560.75 531.36,560.75 533.18,560.75 535,560.75 536.82,560.75 538.63,560.75 540.45,560.75 542.27,560.75" fill="none" stroke="#ff0000" stroke-width="2.08" stroke-linejoin="round"/>
<circle cx="479.45" cy="561.25" r="2.65" fill="#ff0000"/>
<circle cx="480.45" cy="561.25" r="2.65" fill="#ff0000"/>
<circle cx="482.45" cy="561.25" r="2.65" fill="#ff0000"/>
<circle cx="484.45" cy="561.25" r="2.65" fill="#ff0000"/>
<circle cx="486.45" cy="561.25" r="2.65" fill="#ff0000"/>
<circle cx="488.45" cy="561.25" r="2.65" fill="#ff0000"/>
<circle cx="490.45" cy="561.25" r="2.65" fill="#ff0000"/>
<circle cx="491.45" cy="561.25" r="2.65" fill="#ff0000"/>
<circle cx="493.45" cy="561.25" r="2.65" fill="#ff0000"/>
<circle cx="495.45" cy="561.25" r="2.65" fill="#ff0000"/>
<circle cx="497.45" cy="561.25" r="2.65" fill="#ff0000"/>
<circle cx="499.45" cy="561.25" r="2.65" fill="#ff0000"/>
<circle cx="500.45" cy="561.25" r="2.65" fill="#ff0000"/>
<circle cx="502.45" cy="560.25" r="2.65" fill="#ff0000"/>
<circle cx="504.45" cy="557.25" r="2.65" fill="#ff0000"/>
<circle cx="506.45" cy="550.25" r="2.65" fill="#ff0000"/>
<circle cx="508.45" cy="540.25" r="2.65" fill="#ff0000"/>
<circle cx="510.45" cy="528.25" r="2.65" fill="#ff0000"/>
<circle cx="511.45" cy="520.25" r="2.65" fill="#ff0000"/>
<circle cx="513.45" cy="519.25" r="2.65" fill="#ff0000"/>
<circle cx="515.45" cy="519.25" r="2.65" fill="#ff0000"/>
<circle cx="517.45" cy="522.25" r="2.65" fill="#ff0000"/>
<circle cx="519.45" cy="530.25" r="2.65" fill="#ff0000"/>
<circle cx="520.45" cy="541.25" r="2.65" fill="#ff0000"/>
<circle cx="522.45" cy="552.25" r="2.65" fill="#ff0000"/>
<circle cx="524.45" cy="559.25" r="2.65" fill="#ff0000"/>
<circle cx="526.45" cy="561.25" r="2.65" fill="#ff0000"/>
<circle cx="528.45" cy="561.25" r="2.65" fill="#ff0000"/>
<circle cx="530.45" cy="561.25" r="2.65" fill="#ff0000"/>
<circle cx="531.45" cy="561.25" r="2.65" fill="#ff0000"/>
<circle cx="533.45" cy="561.25" r="2.65" fill="#ff0000"/>
<circle cx="535.45" cy="561.25" r="2.65" fill="#ff0000"/>
<circle cx="537.45" cy="561.25" r="2.65" fill="#ff0000"/>
<circle cx="539.45" cy="561.25" r="2.65" fill="#ff0000"/>
<circle cx="540.45" cy="561.25" r="2.65" fill="#ff0000"/>
<circle cx="542.45" cy="561.25" r="2.65" fill="#ff0000"/>
</g>
<rect x="53.5" y="368.5" width="620.0" height="280.0" fill="none" stroke="#000" stroke-width="1.11"/>
<line x1="78.5" x2="78.5" y1="648.5" y2="653.36" stroke="#000" stroke-width="1.11"/>
<text transform="translate(68.68,669.05) scale(1.2599,1.035)" font-size="13.89">−</text>
<text transform="translate(79.15,669.05) scale(1.0404,1.035)" font-size="13.89">5</text>
<line x1="150.5" x2="150.5" y1="648.5" y2="653.36" stroke="#000" stroke-width="1.11"/>
<text transform="translate(141.59,669.05) scale(1.2383,1.035)" font-size="13.89">−</text>
<text transform="translate(151.45,669.05) scale(1.1310,1.035)" font-size="13.89">4</text>
<line x1="223.5" x2="223.5" y1="648.5" y2="653.36" stroke="#000" stroke-width="1.11"/>
<text transform="translate(214.19,669.05) scale(1.2383,1.035)" font-size="13.89">−</text>
<text transform="translate(224.74,669.05) scale(1.0702,1.035)" font-size="13.89">3</text>
<line x1="296.5" x2="296.5" y1="648.5" y2="653.36" stroke="#000" stroke-width="1.11"/>
<text transform="translate(286.58,669.05) scale(1.2671,1.035)" font-size="13.89">−</text>
<text transform="translate(296.91,669.05) scale(1.0598,1.035)" font-size="13.89">2</text>
<line x1="369.5" x2="369.5" y1="648.5" y2="653.36" stroke="#000" stroke-width="1.11"/>
<text transform="translate(359.49,669.05) scale(1.2383,1.035)" font-size="13.89">−</text>
<text transform="translate(369.88,669.05) scale(1.0645,1.035)" font-size="13.89">1</text>
<line x1="441.5" x2="441.5" y1="648.5" y2="653.36" stroke="#000" stroke-width="1.11"/>
<text transform="translate(438.14,669.05) scale(1.0655,1.035)" font-size="13.89">0</text>
<line x1="514.5" x2="514.5" y1="648.5" y2="653.36" stroke="#000" stroke-width="1.11"/>
<text transform="translate(510.29,669.05) scale(1.0486,1.035)" font-size="13.89">1</text>
<line x1="587.5" x2="587.5" y1="648.5" y2="653.36" stroke="#000" stroke-width="1.11"/>
<text transform="translate(582.41,669.05) scale(1.0598,1.035)" font-size="13.89">2</text>
<line x1="660.5" x2="660.5" y1="648.5" y2="653.36" stroke="#000" stroke-width="1.11"/>
<text transform="translate(655.10,669.05) scale(1.1445,1.035)" font-size="13.89">3</text>
<line x1="48.64" x2="53.5" y1="631.5" y2="631.5" stroke="#000" stroke-width="1.11"/>
<text transform="translate(10.48,636.00) scale(1.2671,1.035)" font-size="13.89">−</text>
<text transform="translate(20.72,636.00) scale(1.1145,1.035)" font-size="13.89">0.4</text>
<line x1="48.64" x2="53.5" y1="596.5" y2="596.5" stroke="#000" stroke-width="1.11"/>
<text transform="translate(10.48,601.00) scale(1.2671,1.035)" font-size="13.89">−</text>
<text transform="translate(20.73,601.00) scale(1.0922,1.035)" font-size="13.89">0.2</text>
<line x1="48.64" x2="53.5" y1="561.5" y2="561.5" stroke="#000" stroke-width="1.11"/>
<text transform="translate(23.14,566.00) scale(1.0551,1.035)" font-size="13.89">0.0</text>
<line x1="48.64" x2="53.5" y1="526.5" y2="526.5" stroke="#000" stroke-width="1.11"/>
<text transform="translate(23.11,531.00) scale(1.0556,1.035)" font-size="13.89">0.2</text>
<line x1="48.64" x2="53.5" y1="491.5" y2="491.5" stroke="#000" stroke-width="1.11"/>
<text transform="translate(23.11,496.00) scale(1.0702,1.035)" font-size="13.89">0.4</text>
<line x1="48.64" x2="53.5" y1="456.5" y2="456.5" stroke="#000" stroke-width="1.11"/>
<text transform="translate(22.20,461.00) scale(1.0458,1.035)" font-size="13.89">0.6</text>
<line x1="48.64" x2="53.5" y1="421.5" y2="421.5" stroke="#000" stroke-width="1.11"/>
<text transform="translate(22.19,426.00) scale(1.0676,1.035)" font-size="13.89">0.8</text>
<line x1="48.64" x2="53.5" y1="386.5" y2="386.5" stroke="#000" stroke-width="1.11"/>
<text transform="translate(22.68,391.00) scale(1.0240,1.035)" font-size="13.89">1.0</text>
<text transform="translate(220.70,359.30) scale(1.0966,1.035)" font-size="16.67">Velocity</text>
<text transform="translate(290.71,359.30) scale(1.1236,1.035)" font-size="16.67">at</text>
<text transform="translate(312.80,359.30) scale(1.1779,1.035)" font-size="16.67">time</text>
<text transform="translate(355.80,359.30) scale(1.2158,1.035)" font-size="16.67">t</text>
<text transform="translate(367.61,359.30) scale(1.2717,1.035)" font-size="16.67">=</text>
<text transform="translate(407.51,359.30) scale(1.1202,1.035)" font-size="16.67">4.00000000</text>
<rect x="60.5" y="375.45" width="100" height="67" rx="2.8" ry="2.8" fill="#fff" fill-opacity="0.8" stroke="#ccc" stroke-opacity="0.8" stroke-width="1.39"/>
<path d="M80.6 383.08L76.43 391.42L84.77 391.42Z" fill="#008000" stroke="#008000" stroke-width="1.0" stroke-linejoin="miter"/>
<rect x="75.8" y="403.45" width="9.6" height="9.6" fill="#0000ff"/>
<circle cx="80.6" cy="429.35" r="5" fill="#ff0000"/>
<text transform="translate(104.70,391.75) scale(1.1103,1.035)" font-size="13.89">Level 1</text>
<text transform="translate(104.70,412.55) scale(1.1103,1.035)" font-size="13.89">Level 2</text>
<text transform="translate(104.70,433.35) scale(1.1103,1.035)" font-size="13.89">Level 3</text>
</svg>
</body></html>
